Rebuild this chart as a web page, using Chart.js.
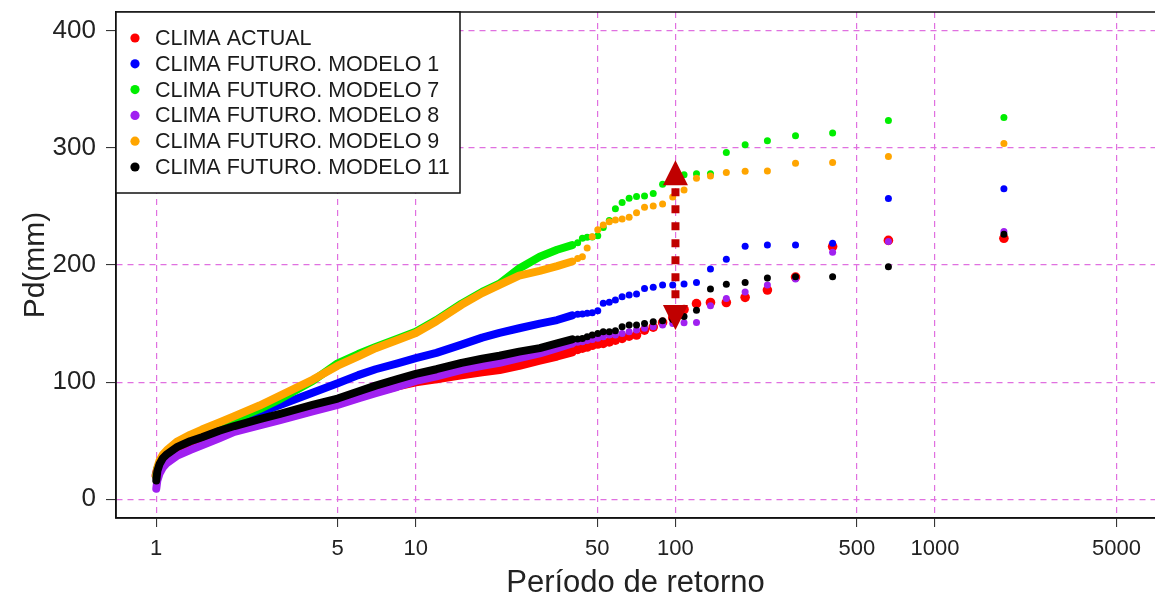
<!DOCTYPE html>
<html>
<head>
<meta charset="utf-8">
<title>Pd - Período de retorno</title>
<script src="https://cdn.jsdelivr.net/npm/chart.js@4.4.1/dist/chart.umd.min.js"></script>
<style>
  html, body { margin: 0; padding: 0; background: #fff; }
  #chart { display: block; }
</style>
</head>
<body>
<canvas id="chart" width="1155" height="600"></canvas>
<script>
const seriesNames = ['CLIMA ACTUAL', 'CLIMA FUTURO. MODELO 1', 'CLIMA FUTURO. MODELO 7',
  'CLIMA FUTURO. MODELO 8', 'CLIMA FUTURO. MODELO 9', 'CLIMA FUTURO. MODELO 11'];
const seriesColors = ['#ff0000', '#0000ff', '#00ee00', '#a020f0', '#ffa500', '#000000'];

const xTicks = [1, 5, 10, 50, 100, 500, 1000, 5000];
const yTicks = [0, 100, 200, 300, 400];

// return periods where the points are packed into a continuous band
const denseT = [1.0005, 1.01, 1.03, 1.06, 1.1, 1.2, 1.35, 1.5, 1.75, 2, 2.5, 3, 4, 5, 6, 7, 8.5, 10, 12, 15, 18, 21, 25, 30, 35, 40];
const actualDense = [20, 24, 28, 32, 35, 41, 46, 50, 55.5, 60, 66.5, 71.5, 78, 83, 88, 92, 97, 100.5, 103, 106.5, 109, 111, 114.5, 119, 122.5, 126];
const model1Dense = [20, 26, 31, 36, 39.5, 46.5, 51.5, 55, 61, 66, 74, 80.5, 91, 99, 106, 111, 116, 120.5, 125, 132, 138, 142, 146, 150, 153, 157];
const model7Dense = [20, 26, 31, 35, 40, 46, 51.5, 56, 62, 68, 77, 85.5, 101, 116, 124, 130, 137, 143, 153, 167, 177, 184, 197, 207, 213, 217];
const model8Dense = [9, 16, 22, 27, 31, 37, 42, 46, 52, 57.5, 63, 67.5, 75, 80.5, 86, 90.5, 96, 101, 105, 110.5, 114, 116.5, 120.5, 124.5, 129, 133];
const model9Dense = [20, 27, 33, 38, 42, 49, 55, 59.5, 65.5, 71, 80, 88.5, 102, 114, 122, 129, 136, 142, 152, 166, 176, 183, 191, 195, 199, 203];
const model11Dense = [16, 24, 30, 35, 38.5, 44.5, 49.5, 53, 58.5, 62.5, 68.5, 73, 80.5, 86, 92, 97, 102.5, 107, 111, 116.5, 120, 122.5, 126, 129, 133, 136.5];

// return periods of the 25 largest values (rank 1..25), drawn as single dots
const tailT = [1841, 661, 403, 290, 226, 185.5, 157, 136.4, 120.5, 107.9, 97.6, 89.2, 82.1, 76, 70.8, 66.3, 62.3, 58.7, 55.6, 52.7, 50.2, 47.8, 45.7, 43.8, 42];
const actualTail = [222.8, 221, 215.7, 189.7, 178.6, 172.4, 168, 168, 167, 162, 155, 151, 147, 144.4, 140.2, 139.3, 137.3, 135.9, 134.4, 133, 132.5, 131.5, 130, 129, 128];
const model1Tail = [265.2, 256.7, 218.5, 217, 217, 216, 204.9, 196.5, 185, 183.8, 182.9, 182.9, 180.9, 180, 175.2, 174.4, 172.9, 170.1, 168.1, 167.3, 161, 159.2, 158.7, 158.1, 157.9];
const model7Tail = [326, 323.4, 312.6, 310.3, 306, 302.6, 296, 278, 278, 277, 272, 269, 261, 259, 258.4, 257, 253.3, 248, 238, 232, 225, 224, 223.7, 222.8, 219];
const model8Tail = [228.5, 220, 210.8, 188, 183, 177, 171.5, 165.2, 151, 150.7, 150, 148.7, 147.3, 145.9, 144.4, 143, 141.6, 140.2, 140.2, 138.7, 137.5, 136.5, 135.5, 134.5, 134];
const model9Tail = [303.7, 292.6, 287.5, 286.9, 280.3, 280, 279, 276, 274, 264, 258, 252, 250.4, 249.3, 244.7, 240.8, 239.3, 238.5, 237, 234.2, 230, 224.2, 214.5, 207, 205.5];
const model11Tail = [226.2, 198.6, 190, 190, 189, 185, 183.5, 179.5, 161.3, 156, 153.5, 152.4, 151.5, 150.1, 148.7, 148.7, 147.3, 143.9, 143, 143, 141.6, 140.2, 138.7, 137.3, 136.8];

// red double arrow at T = 100
const arrowT = 100;
const arrowFrom = 144.5;
const arrowTo = 289.5;

const denseSets = [actualDense, model1Dense, model7Dense, model8Dense, model9Dense, model11Dense];
const tailSets = [actualTail, model1Tail, model7Tail, model8Tail, model9Tail, model11Tail];

const FONT = '"Liberation Sans", Arial, sans-serif';
const gridColor = '#e070e0';

const datasets = [];
seriesNames.forEach((name, i) => {
	const big = i === 0;
	datasets.push({
		label: name,
		data: denseT.map((t, k) => ({x: t, y: denseSets[i][k]})),
		showLine: true,
		borderColor: seriesColors[i],
		borderWidth: big ? 9.5 : 8,
		borderCapStyle: 'round',
		borderJoinStyle: 'round',
		pointRadius: 0,
		order: 5 - i,
	});
	datasets.push({
		label: name,
		data: tailT.map((t, k) => ({x: t, y: tailSets[i][k]})),
		showLine: false,
		backgroundColor: seriesColors[i],
		pointBackgroundColor: seriesColors[i],
		pointBorderWidth: 0,
		pointRadius: big ? 4.8 : 3.5,
		order: 5 - i,
	});
});

// no extra room for labels that stick out of the axes
const noPadding = (scale) => {
	scale.paddingTop = 0;
	scale.paddingBottom = 0;
	scale.paddingLeft = 0;
	scale.paddingRight = 0;
};

const extras = {
	id: 'extras',
	afterDatasetsDraw(chart) {
		const {ctx, chartArea: a, scales} = chart;
		ctx.save();

		// arrow
		const ax = scales.x.getPixelForValue(arrowT);
		const yTip1 = scales.y.getPixelForValue(arrowTo);
		const yTip2 = scales.y.getPixelForValue(arrowFrom);
		const head = 25;
		ctx.fillStyle = '#c00000';
		ctx.strokeStyle = '#c00000';
		ctx.lineWidth = 8;
		ctx.setLineDash([8, 9]);
		ctx.beginPath();
		ctx.moveTo(ax, yTip1 + head + 3);
		ctx.lineTo(ax, yTip2 - head);
		ctx.stroke();
		ctx.setLineDash([]);
		ctx.beginPath();
		ctx.moveTo(ax, yTip1);
		ctx.lineTo(ax - 12.5, yTip1 + head);
		ctx.lineTo(ax + 12.5, yTip1 + head);
		ctx.closePath();
		ctx.fill();
		ctx.beginPath();
		ctx.moveTo(ax, yTip2);
		ctx.lineTo(ax - 12.5, yTip2 - head);
		ctx.lineTo(ax + 12.5, yTip2 - head);
		ctx.closePath();
		ctx.fill();

		// plot frame (right side lies past the picture edge)
		ctx.strokeStyle = '#111';
		ctx.lineWidth = 1.5;
		ctx.beginPath();
		ctx.moveTo(a.right + 2, a.top);
		ctx.lineTo(a.left, a.top);
		ctx.lineTo(a.left, a.bottom);
		ctx.lineTo(a.right + 2, a.bottom);
		ctx.stroke();

		// legend box
		const lx = a.left, ly = a.top, lw = 344, lh = 181;
		ctx.fillStyle = '#fff';
		ctx.fillRect(lx, ly, lw, lh);
		ctx.strokeRect(lx, ly, lw, lh);
		ctx.font = '21.5px ' + FONT;
		ctx.textBaseline = 'middle';
		ctx.textAlign = 'left';
		seriesNames.forEach((name, i) => {
			const y = ly + 26 + i * 25.8;
			ctx.fillStyle = seriesColors[i];
			ctx.beginPath();
			ctx.arc(lx + 19, y, 4.6, 0, Math.PI * 2);
			ctx.fill();
			ctx.fillStyle = '#1a1a1a';
			ctx.fillText(name, lx + 39, y + 1);
		});
		ctx.restore();
	}
};

new Chart(document.getElementById('chart'), {
	type: 'scatter',
	data: {datasets: datasets},
	options: {
		responsive: false,
		animation: false,
		devicePixelRatio: 1,
		layout: {autoPadding: false, padding: {top: 12, right: 0, left: 0, bottom: 0}},
		plugins: {
			legend: {display: false},
			tooltip: {enabled: false},
		},
		scales: {
			x: {
				type: 'logarithmic',
				min: 0.711,
				max: 7031,
				afterBuildTicks: (scale) => {
					scale.ticks = xTicks.map(v => ({value: v}));
				},
				afterFit: (scale) => { scale.height = 82; noPadding(scale); },
				ticks: {
					autoSkip: false,
					maxRotation: 0,
					padding: 9,
					color: '#222',
					font: {family: FONT, size: 22},
					callback: (v) => String(v),
				},
				grid: {
					color: gridColor,
					lineWidth: 1.2,
					tickColor: '#222',
					tickLength: 9,
					tickWidth: 1,
					tickBorderDash: [],
				},
				border: {display: true, color: '#111', width: 1.5, dash: [6, 5]},
				title: {
					display: true,
					text: 'Período de retorno',
					color: '#222',
					font: {family: FONT, size: 31, lineHeight: 1},
					padding: {top: 0, bottom: 1},
				},
			},
			y: {
				type: 'linear',
				min: -16,
				max: 416,
				afterBuildTicks: (scale) => {
					scale.ticks = yTicks.map(v => ({value: v}));
				},
				afterFit: (scale) => { scale.width = 116; noPadding(scale); },
				ticks: {
					padding: 10,
					color: '#222',
					font: {family: FONT, size: 26},
				},
				grid: {
					color: gridColor,
					lineWidth: 1.2,
					tickColor: '#222',
					tickLength: 10,
					tickWidth: 1,
					tickBorderDash: [],
				},
				border: {display: true, color: '#111', width: 1.5, dash: [6, 5]},
				title: {
					display: true,
					text: 'Pd(mm)',
					color: '#222',
					font: {family: FONT, size: 30},
					padding: {top: 18, bottom: 0},
				},
			},
		},
	},
	plugins: [extras],
});
</script>
</body>
</html>
